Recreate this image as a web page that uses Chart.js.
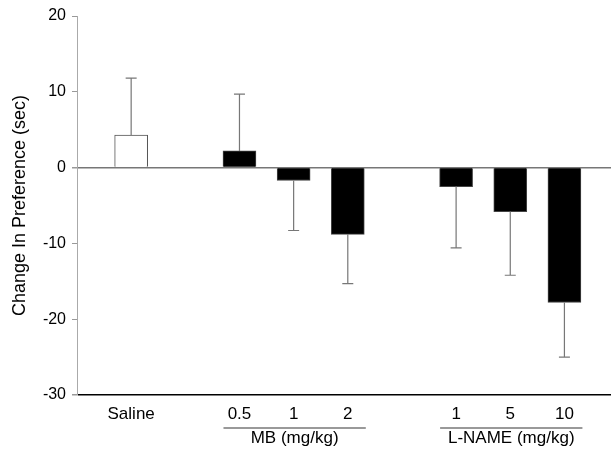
<!DOCTYPE html>
<html>
<head>
<meta charset="utf-8">
<script src="https://cdn.jsdelivr.net/npm/chart.js@4.4.1/dist/chart.umd.min.js"></script>
<style>
  body { margin: 0; background: #fff; }
  #wrap { width: 611px; height: 453px; }
</style>
</head>
<body>
<div id="wrap"><canvas id="prefChart"></canvas></div>
<script>
// x slot of each bar (empty slots 1 and 5 separate the groups)
const barSlots = [0, 2, 3, 4, 6, 7, 8];
const barLabels = ["Saline", "0.5", "1", "2", "1", "5", "10"];
const meanChange = [4.3, 2.2, -1.7, -8.8, -2.5, -5.8, -17.8];
const semChange = [7.5, 7.5, 6.6, 6.5, 8.1, 8.4, 7.2];

const groupNames = ["MB (mg/kg)", "L-NAME (mg/kg)"];
const groupFirst = [2, 6];
const groupLast = [4, 8];

const yTicks = [-30, -20, -10, 0, 10, 20];

Chart.defaults.font.family = '"Liberation Sans", Arial, sans-serif';
Chart.defaults.color = "#000";

// saline is the open bar, the drugs are filled
const salinePts = [];
const drugPts = [];
for (let i = 0; i < barSlots.length; i++) {
  const p = { x: barSlots[i], y: meanChange[i], err: semChange[i] };
  if (i === 0) salinePts.push(p); else drugPts.push(p);
}

// one-sided error bars, drawn away from zero
const errorBars = {
  id: "errorBars",
  afterDatasetsDraw(chart) {
    const ctx = chart.ctx;
    const yScale = chart.scales.y;
    ctx.save();
    ctx.strokeStyle = "#777";
    ctx.lineWidth = 1.2;
    chart.data.datasets.forEach((ds, di) => {
      const meta = chart.getDatasetMeta(di);
      meta.data.forEach((bar, i) => {
        const p = ds.data[i];
        const end = p.y >= 0 ? p.y + p.err : p.y - p.err;
        const yEnd = yScale.getPixelForValue(end);
        ctx.beginPath();
        ctx.moveTo(bar.x, bar.y);
        ctx.lineTo(bar.x, yEnd);
        ctx.moveTo(bar.x - 5.5, yEnd);
        ctx.lineTo(bar.x + 5.5, yEnd);
        ctx.stroke();
      });
    });
    ctx.restore();
  }
};

// underlines and names for the drug groups
const groupLabels = {
  id: "groupLabels",
  afterDraw(chart) {
    const ctx = chart.ctx;
    const xs = chart.scales.x;
    const base = chart.chartArea.bottom;
    ctx.save();
    for (let g = 0; g < groupNames.length; g++) {
      const x1 = xs.getPixelForValue(groupFirst[g]) - 16;
      const x2 = xs.getPixelForValue(groupLast[g]) + 18;
      ctx.strokeStyle = "#999";
      ctx.lineWidth = 1.8;
      ctx.beginPath();
      ctx.moveTo(x1, base + 33);
      ctx.lineTo(x2, base + 33);
      ctx.stroke();
      ctx.fillStyle = "#000";
      ctx.font = '17px "Liberation Sans", Arial, sans-serif';
      ctx.textAlign = "center";
      ctx.textBaseline = "alphabetic";
      ctx.fillText(groupNames[g], (x1 + x2) / 2, base + 48);
    }
    ctx.restore();
  }
};

new Chart(document.getElementById("prefChart"), {
  type: "bar",
  data: {
    datasets: [
      {
        label: "Saline",
        data: salinePts,
        backgroundColor: "#fff",
        borderColor: "#555",
        borderWidth: 1,
        barThickness: 33,
        grouped: false
      },
      {
        label: "Drug",
        data: drugPts,
        backgroundColor: "#000",
        borderColor: "#444",
        borderWidth: 1,
        barThickness: 33,
        grouped: false
      }
    ]
  },
  options: {
    responsive: true,
    maintainAspectRatio: false,
    animation: false,
    layout: { padding: { top: 16, right: 0, bottom: 0, left: 0 } },
    plugins: {
      legend: { display: false },
      tooltip: { enabled: false }
    },
    scales: {
      x: {
        type: "linear",
        offset: false,
        min: -1,
        max: 8.86,
        grid: { display: false, drawTicks: false },
        border: { display: false },
        afterBuildTicks: function (scale) {
          scale.ticks = barSlots.map(v => ({ value: v }));
        },
        afterFit: function (scale) { scale.height = 58; },
        ticks: {
          padding: 9,
          autoSkip: false,
          maxRotation: 0,
          font: { size: 17 },
          callback: function (value) {
            const i = barSlots.indexOf(value);
            return i >= 0 ? barLabels[i] : "";
          }
        }
      },
      y: {
        min: -30,
        max: 20,
        afterBuildTicks: function (scale) {
          scale.ticks = yTicks.map(v => ({ value: v }));
        },
        afterFit: function (scale) { scale.width = 77; },
        border: { color: "#aaa", width: 1 },
        grid: {
          color: function (c) {
            if (c.tick.value === 0) return "#777";
            if (c.tick.value === -30) return "#000";
            return "rgba(0,0,0,0)";
          },
          lineWidth: function (c) {
            return c.tick.value === 0 || c.tick.value === -30 ? 1.5 : 1;
          },
          tickColor: "#999",
          tickLength: 5
        },
        ticks: {
          padding: 6,
          font: { size: 16 }
        },
        title: {
          display: true,
          text: "Change In Preference (sec)",
          font: { size: 18 },
          padding: { top: 9, bottom: 0 }
        }
      }
    }
  },
  plugins: [errorBars, groupLabels]
});
</script>
</body>
</html>
